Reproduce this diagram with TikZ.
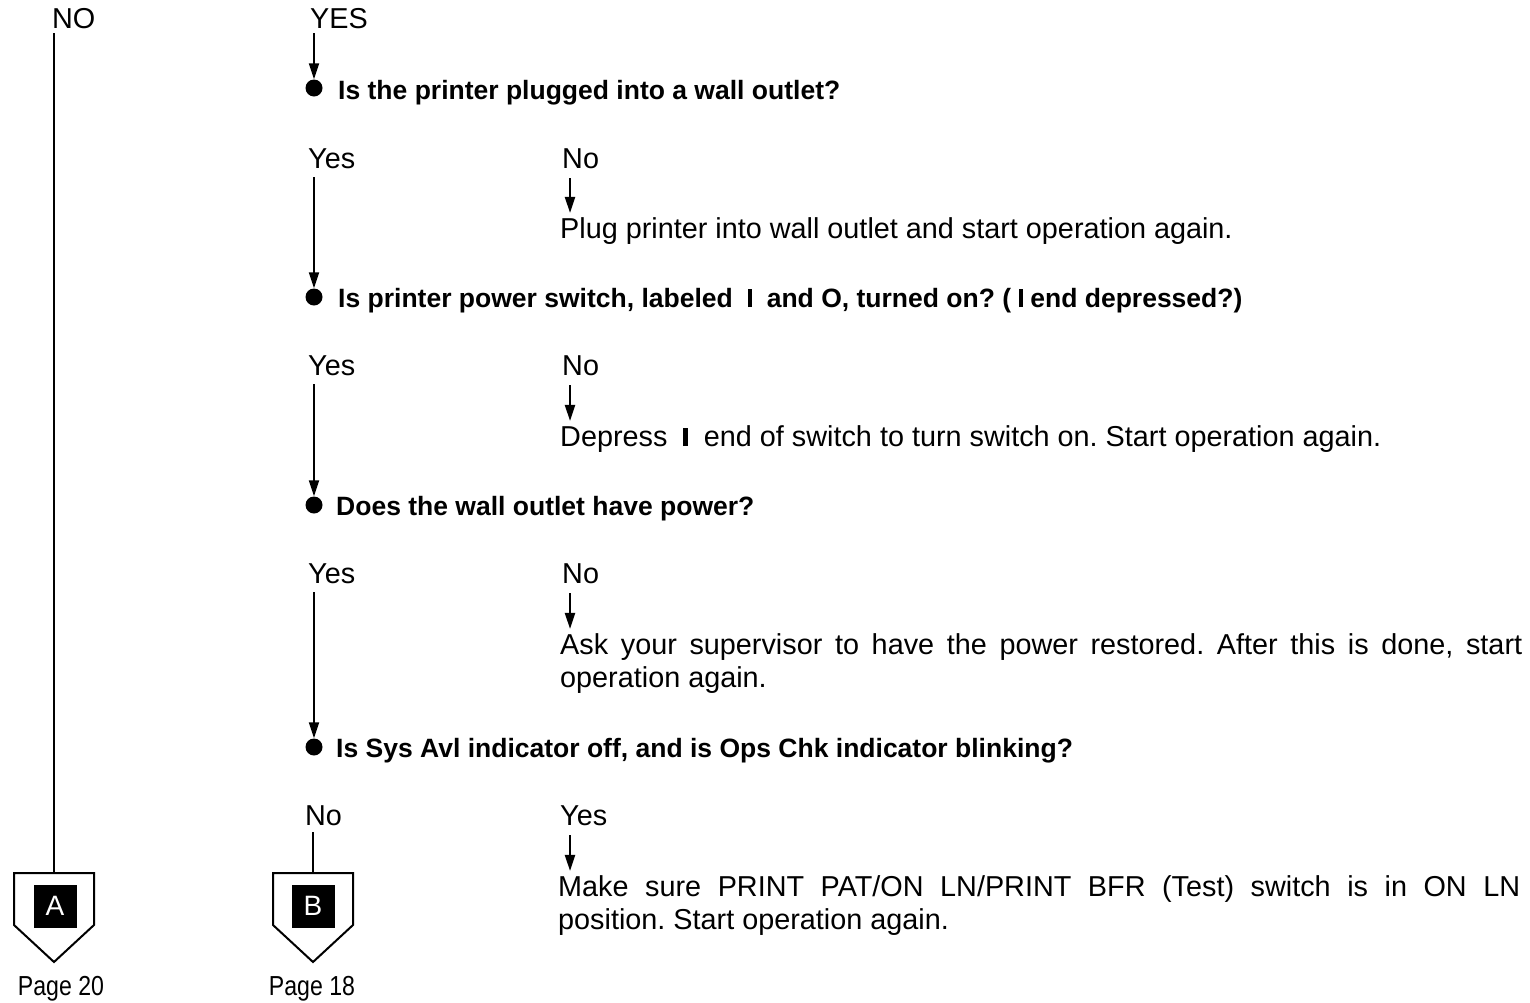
\documentclass[tikz,border=0pt]{standalone}
\usepackage{fontspec}
\setmainfont{Liberation Sans}
\newfontfamily\condfont[FakeStretch=0.84]{Liberation Sans}
\usetikzlibrary{arrows.meta}
\newcommand{\pbar}{\rule[0pt]{4.5pt}{18pt}}
\frenchspacing
\begin{document}
\begin{tikzpicture}[x=1pt,y=-1pt,
  lbl/.style={anchor=base west,inner sep=0pt,font=\fontsize{28.8}{34}\selectfont},
  qtext/.style={anchor=base west,inner sep=0pt,font=\fontsize{26.5}{32}\selectfont\bfseries},
  para/.style={anchor=base west,inner sep=0pt,text width=962pt,align=justify,font=\fontsize{28.8}{33}\selectfont},
  dot/.style={circle,fill=black,inner sep=0pt,minimum width=16pt,minimum height=17pt},
  conn/.style={line width=2pt},
  arr/.style={line width=2pt,-{Triangle[length=16pt,width=10pt]}},
  boxline/.style={line width=2pt,line join=miter},
  tag/.style={fill=black,text=white,minimum size=43pt,inner sep=0pt,font=\fontsize{28}{28}\selectfont},
  page/.style={anchor=base,inner sep=0pt,font=\fontsize{27.5}{27.5}\selectfont\condfont}]
\useasboundingbox (0,0) rectangle (1530,1002);

% top labels
\node[lbl] (NO) at (52,28) {NO};
\node[lbl] (YES) at (310,28) {YES};

% question bullets
\node[dot] (b1) at (314,88) {};
\node[dot] (b2) at (314,297) {};
\node[dot] (b3) at (314,505) {};
\node[dot] (b4) at (314,747) {};

% questions
\node[qtext] (q1) at (338,99) {Is the printer plugged into a wall outlet?};
\node[qtext] (q2) at (338,307) {Is printer power switch, labeled \ \pbar\ \ and \textbf{O}, turned on? ( \pbar\ end depressed?)};
\node[qtext] (q3) at (336,515) {Does the wall outlet have power?};
\node[qtext] (q4) at (336,757) {Is Sys Avl indicator off, and is Ops Chk indicator blinking?};

% branch labels
\node[lbl] (yes1) at (308,168) {Yes};
\node[lbl] (no1) at (562,168) {No};
\node[lbl] (yes2) at (308,375) {Yes};
\node[lbl] (no2) at (562,375) {No};
\node[lbl] (yes3) at (308,583) {Yes};
\node[lbl] (no3) at (562,583) {No};
\node[lbl] (no4) at (305,825) {No};
\node[lbl] (yes4) at (560,825) {Yes};

% actions
\node[lbl] (plug) at (560,238) {Plug printer into wall outlet and start operation again.};
\node[lbl] (depress) at (560,446) {Depress \ \pbar\ \ end of switch to turn switch on. Start operation again.};
\node[para] (ask) at (560,654) {Ask your supervisor to have the power restored. After this is done, start\linebreak operation again.};
\node[para] (make) at (558,896) {Make sure PRINT PAT/ON LN/PRINT BFR (Test) switch is in ON LN\linebreak position. Start operation again.};

% arrow start coordinates
\coordinate (n1) at (570,178);
\coordinate (n2) at (570,385);
\coordinate (n3) at (570,593);
\coordinate (n4) at (570,835);

% off-page connectors
\coordinate (topA) at (54,873);
\coordinate (topB) at (313,873);
\draw[boxline] (topA) ++(-40,0) -- ++(80,0) -- ++(0,52) -- ++(-40,37) -- ++(-40,-37) -- cycle;
\draw[boxline] (topB) ++(-40,0) -- ++(80,0) -- ++(0,52) -- ++(-40,37) -- ++(-40,-37) -- cycle;
\node[tag] (A) at (55,906) {A};
\node[tag] (B) at (313,906) {B};
\node[page] (pA) at (61,995) {Page 20};
\node[page] (pB) at (312,995) {Page 18};

% connectors
\draw[conn,shorten <=5pt] (NO.south -| topA) -- (topA);
\draw[arr,shorten <=5pt] (YES.south -| b1) -- (b1.north);
\draw[arr,shorten <=9pt] (yes1.south -| b2) -- (b2.north);
\draw[arr,shorten <=9pt] (yes2.south -| b3) -- (b3.north);
\draw[arr,shorten <=9pt] (yes3.south -| b4) -- (b4.north);
\draw[conn,shorten <=7pt] (no4.south -| topB) -- (topB);
\draw[arr,shorten >=4pt] (n1) -- (plug.north -| n1);
\draw[arr,shorten >=4pt] (n2) -- (depress.north -| n2);
\draw[arr,shorten >=4pt] (n3) -- (ask.north -| n3);
\draw[arr,shorten >=4pt] (n4) -- (make.north -| n4);
\end{tikzpicture}
\end{document}
